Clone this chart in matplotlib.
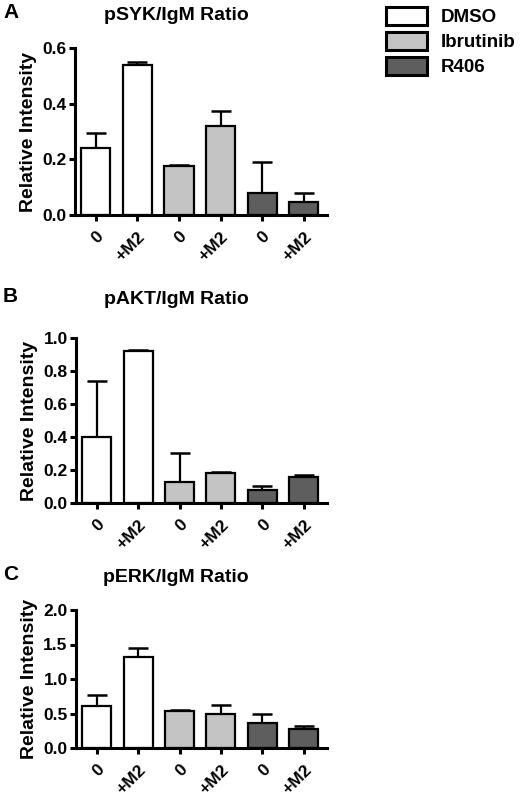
import matplotlib
matplotlib.use("Agg")
import matplotlib.pyplot as plt
from matplotlib.patches import Patch

plt.rcParams['font.family'] = ['Liberation Sans', 'DejaVu Sans']
plt.rcParams['font.weight'] = 'bold'

# data
conditions = ['0', '+M2', '0', '+M2', '0', '+M2']
groups = ['DMSO', 'Ibrutinib', 'R406']
group_colors = ['#ffffff', '#c4c4c4', '#5e5e5e']

syk_mean = [0.24, 0.54, 0.175, 0.32, 0.08, 0.045]
syk_err = [0.055, 0.01, 0.005, 0.055, 0.11, 0.033]

akt_mean = [0.40, 0.92, 0.13, 0.18, 0.08, 0.16]
akt_err = [0.34, 0.01, 0.17, 0.01, 0.025, 0.01]

erk_mean = [0.61, 1.32, 0.53, 0.49, 0.36, 0.27]
erk_err = [0.16, 0.13, 0.02, 0.13, 0.14, 0.05]

panels = [
    ('A', 'pSYK/IgM Ratio', syk_mean, syk_err, 0.6, [0.0, 0.2, 0.4, 0.6]),
    ('B', 'pAKT/IgM Ratio', akt_mean, akt_err, 1.0, [0.0, 0.2, 0.4, 0.6, 0.8, 1.0]),
    ('C', 'pERK/IgM Ratio', erk_mean, erk_err, 2.0, [0.0, 0.5, 1.0, 1.5, 2.0]),
]

W, H = 520, 806
fig = plt.figure(figsize=(W / 100, H / 100), dpi=100)

# axes boxes in pixels: left, top, right, bottom
boxes = [(75, 48, 327, 215), (76, 338, 327, 503), (76, 610, 327, 748)]
title_y = [15, 300, 578]

bar_colors = [group_colors[i // 2] for i in range(6)]
x = list(range(6))

for (letter, title, mean, err, ymax, yticks), (l, t, r, b), ty in zip(panels, boxes, title_y):
    ax = fig.add_axes([l / W, 1 - b / H, (r - l) / W, (b - t) / H])
    ax.bar(x, mean, width=0.7, color=bar_colors, edgecolor='black', linewidth=1.6, zorder=2)
    ax.errorbar(x, mean, yerr=[[0] * 6, err], fmt='none', ecolor='black',
                elinewidth=1.6, capsize=7.5, capthick=1.8, zorder=1)
    ax.set_xlim(-0.5, 5.56)
    ax.set_ylim(0, ymax)
    ax.set_yticks(yticks)
    ax.set_yticklabels(['%.1f' % v for v in yticks])
    ax.set_xticks(x)
    ax.set_xticklabels(conditions, rotation=45, ha='right', rotation_mode='anchor')
    for s in ['top', 'right']:
        ax.spines[s].set_visible(False)
    for s in ['left', 'bottom']:
        ax.spines[s].set_linewidth(2.2)
    ax.tick_params(axis='both', width=2.2, length=4, labelsize=12.5, pad=2)
    ax.tick_params(axis='x', pad=6)
    ax.set_ylabel('Relative Intensity', fontsize=14, fontweight='bold', labelpad=4)
    fig.text(176 / W, 1 - ty / H, title, ha='center', va='center', fontsize=14, fontweight='bold')
    fig.text(3 / W, 1 - (ty - 3) / H, letter, ha='left', va='center', fontsize=15, fontweight='bold')

handles = [Patch(facecolor=c, edgecolor='black', linewidth=2.2) for c in group_colors]
fig.legend(handles, groups, loc='upper left', bbox_to_anchor=(386 / W, 1 - 7 / H),
           frameon=False, handlelength=2.2, handleheight=1.1,
           labelspacing=0.3, handletextpad=0.7, borderpad=0, borderaxespad=0,
           prop={'weight': 'bold', 'size': 13.5})

fig.savefig('out.png', dpi=100)
